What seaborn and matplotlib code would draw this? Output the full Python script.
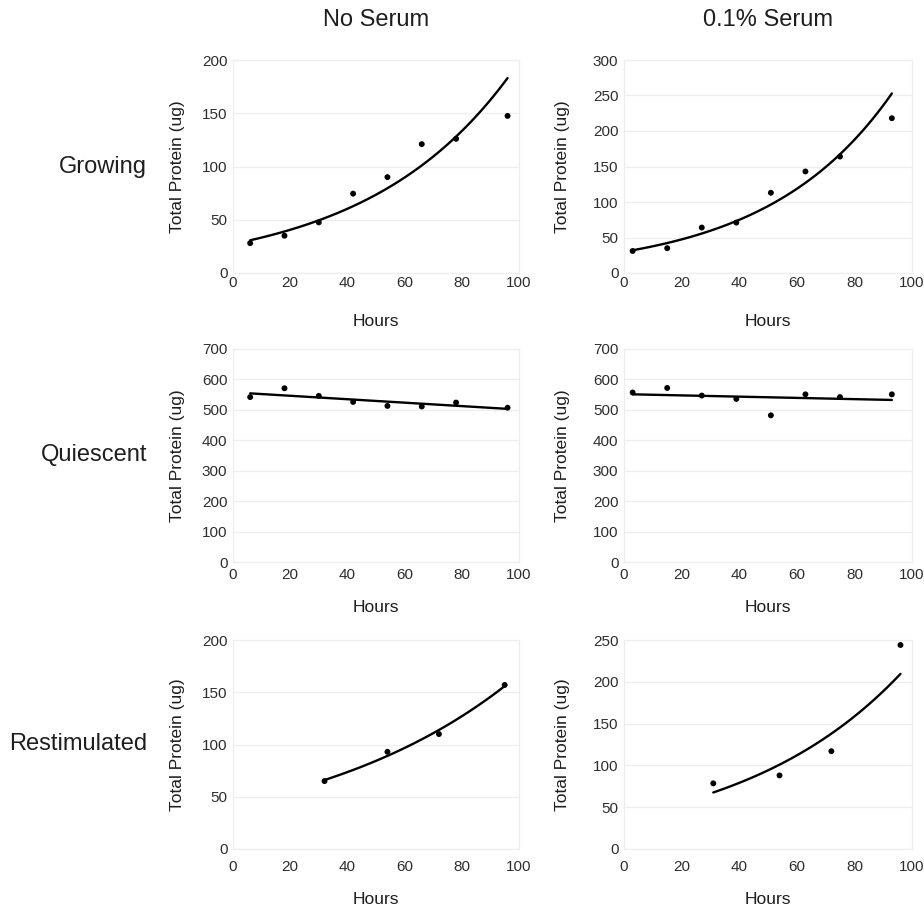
import numpy as np
import pandas as pd
import matplotlib
matplotlib.use("Agg")
import matplotlib.pyplot as plt
import seaborn as sns

# ---- data ----
row_titles = ["Growing", "Quiescent", "Restimulated"]
col_titles = ["No Serum", "0.1% Serum"]

hours_ns_grow = [6, 18, 30, 42, 54, 66, 78, 96]
prot_ns_grow = [28, 35, 47.5, 74.5, 90, 121, 126, 147.5]
hours_s_grow = [3, 15, 27, 39, 51, 63, 75, 93]
prot_s_grow = [31, 35, 64, 71, 113, 143, 164, 218]

hours_ns_qui = [6, 18, 30, 42, 54, 66, 78, 96]
prot_ns_qui = [542, 571, 546, 526, 513, 511, 524, 507]
hours_s_qui = [3, 15, 27, 39, 51, 63, 75, 93]
prot_s_qui = [557, 572, 547, 536, 482, 551, 542, 551]

hours_ns_rest = [32, 54, 72, 95]
prot_ns_rest = [65, 93, 110, 157]
hours_s_rest = [31, 54, 72, 96]
prot_s_rest = [78.5, 88, 117, 244]

y_max = [[200, 300], [700, 700], [200, 250]]
y_step = [[50, 50], [100, 100], [50, 50]]
fit_kind = ["exp", "linear", "exp"]

panels = [
    [(hours_ns_grow, prot_ns_grow), (hours_s_grow, prot_s_grow)],
    [(hours_ns_qui, prot_ns_qui), (hours_s_qui, prot_s_qui)],
    [(hours_ns_rest, prot_ns_rest), (hours_s_rest, prot_s_rest)],
]

# ---- style ----
sns.set_theme(style="white")
plt.rcParams["font.family"] = ["Liberation Sans", "DejaVu Sans"]

W, H = 924, 910
fig = plt.figure(figsize=(W / 100, H / 100), dpi=100)

col_left = [233, 624]
col_right = [519, 912]
row_top = [60, 349, 640]
row_bot = [273, 562, 849]
xlab_dist = [49, 45, 51]
xtick_pad = [2.0, 4.5, 8.0]
ylab_off = [55, 61]

text_col = "#1e1e1e"
tick_col = "#2e2e2e"

for r in range(3):
    for c in range(2):
        x0, x1 = col_left[c], col_right[c]
        y0, y1 = row_top[r], row_bot[r]
        ax = fig.add_axes([x0 / W, 1 - y1 / H, (x1 - x0) / W, (y1 - y0) / H])
        hrs, prot = panels[r][c]
        df = pd.DataFrame({"Hours": hrs, "Protein": prot})

        # trendline (least squares fit computed from the data)
        xs = np.linspace(min(hrs), max(hrs), 100)
        if fit_kind[r] == "exp":
            b, a = np.polyfit(hrs, np.log(prot), 1)
            ys = np.exp(a + b * xs)
        else:
            b, a = np.polyfit(hrs, prot, 1)
            ys = a + b * xs
        fit_df = pd.DataFrame({"Hours": xs, "Protein": ys})

        sns.lineplot(data=fit_df, x="Hours", y="Protein", ax=ax,
                     color="black", linewidth=1.7, zorder=3)
        sns.scatterplot(data=df, x="Hours", y="Protein", ax=ax,
                        color="black", s=18, edgecolor="none", zorder=4)

        ax.set_xlim(0, 100)
        ax.set_ylim(0, y_max[r][c])
        ax.set_xticks(np.arange(0, 101, 20))
        ax.set_yticks(np.arange(0, y_max[r][c] + 1, y_step[r][c]))
        ax.grid(axis="y", color="#eeeeee", linewidth=0.9)
        ax.grid(axis="x", visible=False)
        for sp in ax.spines.values():
            sp.set_visible(True)
            sp.set_color("#eeeeee")
            sp.set_linewidth(0.9)
        ax.tick_params(axis="both", length=0, labelsize=11, colors=tick_col)
        ax.tick_params(axis="y", pad=4)
        ax.tick_params(axis="x", pad=xtick_pad[r])

        h_px = y1 - y0
        w_px = x1 - x0
        ax.set_xlabel("Hours", fontsize=12.5, color=text_col, va="center")
        ax.xaxis.set_label_coords(0.5, -xlab_dist[r] / h_px)
        ax.set_ylabel("Total Protein (ug)", fontsize=12.5, color=text_col, va="center")
        ax.yaxis.set_label_coords(-ylab_off[c] / w_px, 0.5)

    # row title
    fig.text(147 / W, 1 - ((row_top[r] + row_bot[r]) / 2) / H, row_titles[r],
             ha="right", va="center", fontsize=17, color=text_col)

for c in range(2):
    fig.text(((col_left[c] + col_right[c]) / 2) / W, 1 - 20 / H, col_titles[c],
             ha="center", va="center", fontsize=17, color=text_col)

fig.savefig("out.png", dpi=100, facecolor="white")
